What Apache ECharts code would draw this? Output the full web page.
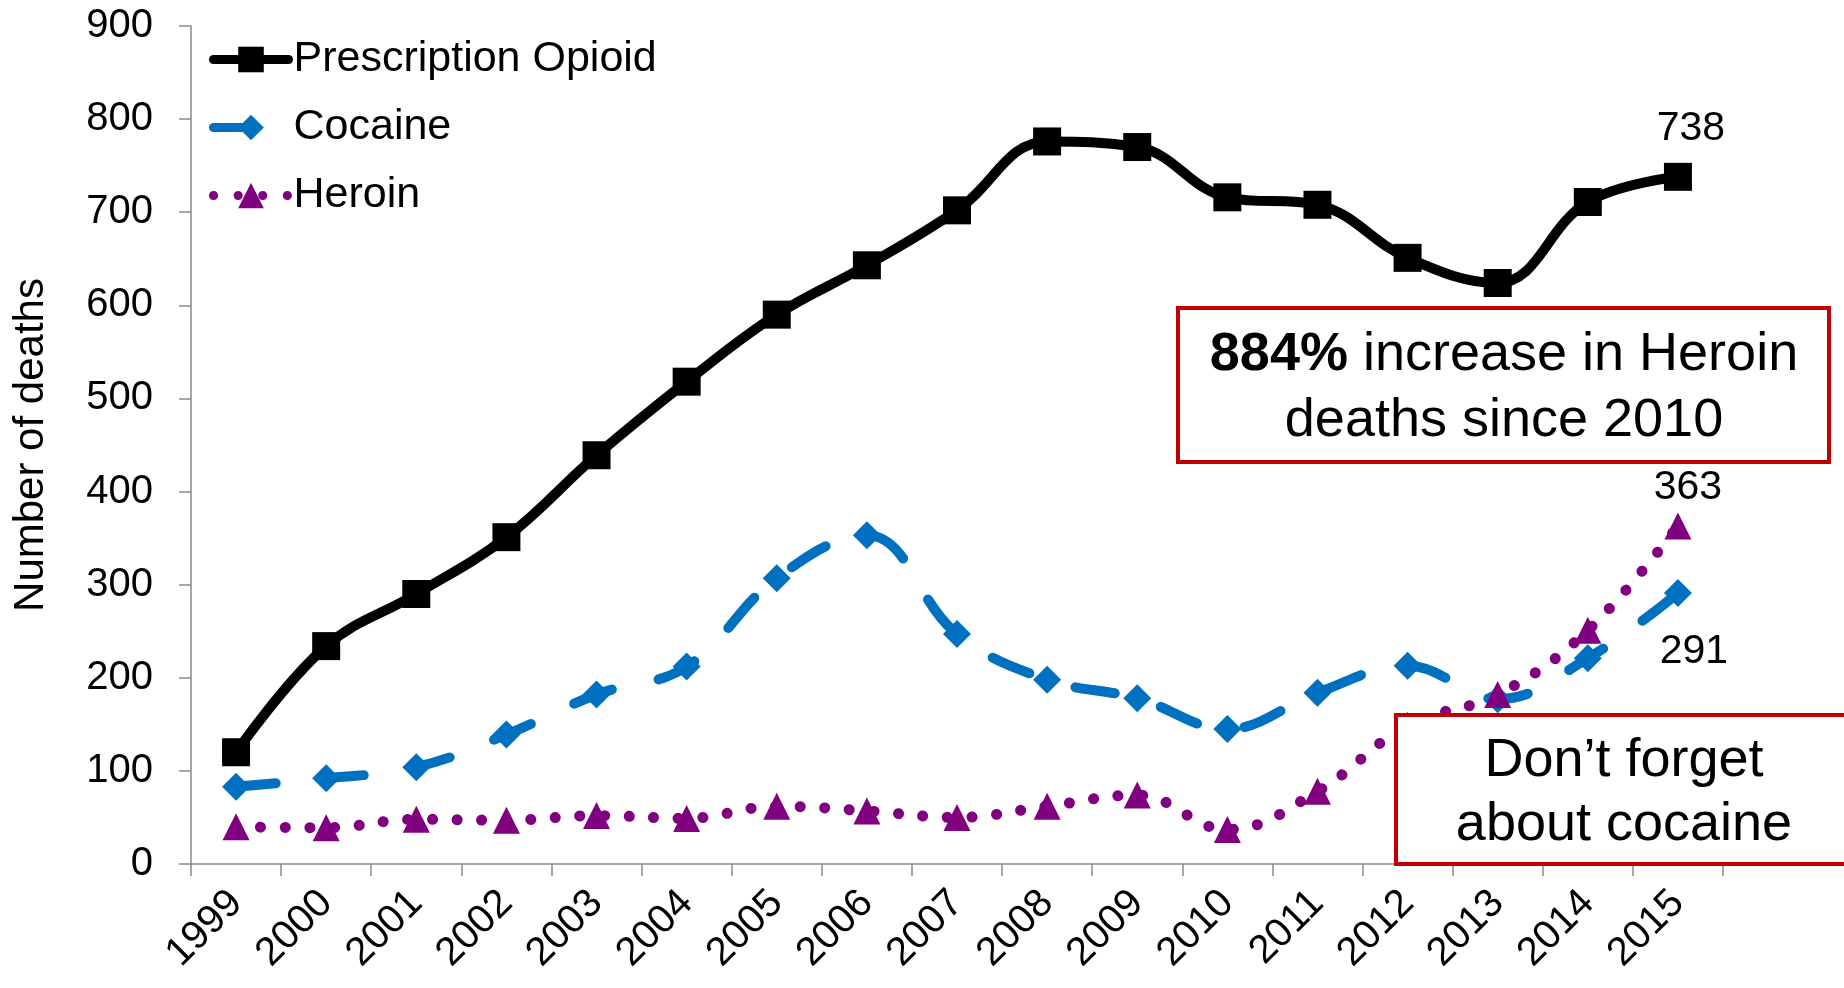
<!DOCTYPE html>
<html>
<head>
<meta charset="utf-8">
<script src="https://cdn.jsdelivr.net/npm/echarts@6/dist/echarts.min.js"></script>
<style>
  html, body { margin: 0; padding: 0; background: #fff; }
  #myChart { width: 1844px; height: 988px; }
</style>
</head>
<body>
<div id="myChart"></div>
<script>
// years on the x axis
var years = ['1999', '2000', '2001', '2002', '2003', '2004', '2005', '2006', '2007',
             '2008', '2009', '2010', '2011', '2012', '2013', '2014', '2015'];
// deaths per year
var opioidData  = [120, 234, 290, 351, 439, 518, 590, 643, 702, 776, 770, 716, 708, 651, 624, 711, 738];
var cocaineData = [83, 92, 104, 139, 182, 212, 307, 353, 247, 198, 178, 145, 184, 213, 177, 221, 291];
var heroinData  = [40, 39, 48, 47, 52, 49, 62, 57, 50, 62, 74, 37, 78, 149, 182, 251, 363];
var yTicks = [0, 100, 200, 300, 400, 500, 600, 700, 800, 900];

var FONT = '"Liberation Sans", Arial, sans-serif';

// only the last point of each series gets a value label
function lastLabel(arr, label) {
  return arr.map(function (v, i) {
    if (i === arr.length - 1) return { value: v, label: label };
    return v;
  });
}

var myChart = echarts.init(document.getElementById('myChart'));
myChart.setOption({
  animation: false,
  backgroundColor: '#fff',
  textStyle: { fontFamily: FONT, color: '#000' },
  grid: {
    left: 191,
    right: 121,
    top: 26,
    bottom: 124,
    outerBoundsMode: 'none'
  },
  legend: {
    orient: 'vertical',
    left: 204,
    top: 33,
    itemWidth: 75,
    itemHeight: 32,
    itemGap: 25,
    data: ['Prescription Opioid', 'Cocaine', 'Heroin'],
    lineStyle: { width: 9 },
    textStyle: { fontFamily: FONT, fontSize: 43, lineHeight: 43, color: '#000' }
  },
  xAxis: {
    type: 'category',
    data: years,
    boundaryGap: true,
    axisLine: { lineStyle: { color: '#8a8a8a', width: 1.5 } },
    axisTick: { show: true, alignWithLabel: false, length: 12, lineStyle: { color: '#8a8a8a', width: 1.5 } },
    axisLabel: {
      interval: 0,
      rotate: 45,
      margin: 33,
      fontSize: 40,
      fontFamily: FONT,
      color: '#000'
    }
  },
  yAxis: {
    type: 'value',
    min: yTicks[0],
    max: yTicks[yTicks.length - 1],
    interval: 100,
    name: 'Number of deaths',
    nameLocation: 'middle',
    nameGap: 139,
    nameTextStyle: { fontSize: 42, fontFamily: FONT, color: '#000' },
    axisLine: { show: true, lineStyle: { color: '#8a8a8a', width: 1.5 } },
    axisTick: { show: true, length: 12, lineStyle: { color: '#8a8a8a', width: 1.5 } },
    splitLine: { show: false },
    axisLabel: { margin: 38, fontSize: 40, fontFamily: FONT, color: '#000' }
  },
  series: [
    {
      name: 'Prescription Opioid',
      type: 'line',
      smooth: 0.4,
      symbol: 'rect',
      symbolSize: 28,
      color: '#000',
      lineStyle: { color: '#000', width: 10, cap: 'round', join: 'round' },
      itemStyle: { color: '#000' },
      data: lastLabel(opioidData, {
        show: true, position: 'top', distance: 14, offset: [13, 0],
        fontSize: 41, fontFamily: FONT, color: '#000'
      })
    },
    {
      name: 'Cocaine',
      type: 'line',
      smooth: 0.4,
      symbol: 'diamond',
      symbolSize: 28,
      color: '#0070C0',
      lineStyle: { color: '#0070C0', width: 10, type: [40, 48], cap: 'round', join: 'round' },
      itemStyle: { color: '#0070C0' },
      data: lastLabel(cocaineData, {
        show: true, position: 'bottom', distance: 24, offset: [16, 0],
        fontSize: 41, fontFamily: FONT, color: '#000'
      })
    },
    {
      name: 'Heroin',
      type: 'line',
      smooth: 0.4,
      symbol: 'triangle',
      symbolSize: 27,
      color: '#800080',
      lineStyle: { color: '#800080', width: 11, type: [0.1, 24.5], cap: 'round', join: 'round' },
      itemStyle: { color: '#800080' },
      data: lastLabel(heroinData, {
        show: true, position: 'top', distance: 4, offset: [10, 0],
        fontSize: 41, fontFamily: FONT, color: '#000'
      })
    }
  ],
  graphic: [
    {
      type: 'rect',
      z: 100,
      shape: { x: 1178, y: 308, width: 651, height: 154 },
      style: { fill: '#fff', stroke: '#C00000', lineWidth: 4 }
    },
    {
      type: 'text',
      z: 101,
      x: 1504,
      y: 388,
      style: {
        text: '{b|884%} increase in Heroin\ndeaths since 2010',
        align: 'center',
        verticalAlign: 'middle',
        fontSize: 54,
        lineHeight: 66,
        fontFamily: FONT,
        fill: '#000',
        rich: {
          b: { fontSize: 54, lineHeight: 66, fontWeight: 'bold', fontFamily: FONT, fill: '#000' }
        }
      }
    },
    {
      type: 'rect',
      z: 100,
      shape: { x: 1396, y: 715, width: 470, height: 149 },
      style: { fill: '#fff', stroke: '#C00000', lineWidth: 4 }
    },
    {
      type: 'text',
      z: 101,
      x: 1624,
      y: 793,
      style: {
        text: 'Don’t forget\nabout cocaine',
        align: 'center',
        verticalAlign: 'middle',
        fontSize: 54,
        lineHeight: 64,
        fontFamily: FONT,
        fill: '#000'
      }
    }
  ]
});
</script>
</body>
</html>
